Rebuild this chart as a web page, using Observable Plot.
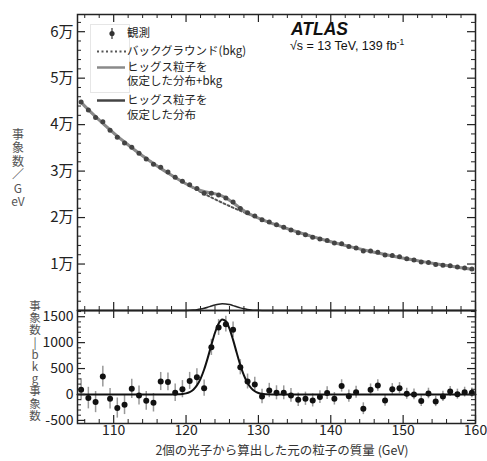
<!DOCTYPE html>
<html><head><meta charset="utf-8">
<script src="https://cdn.jsdelivr.net/npm/d3@7"></script>
<script src="https://cdn.jsdelivr.net/npm/@observablehq/plot@0.6"></script>
<style>
body{margin:0;background:#fff;}
#c{position:relative;width:487px;height:461px;font-family:'Noto Sans CJK JP',sans-serif;}
#c svg{position:absolute;left:0;}
.lbl{position:absolute;color:#555;text-align:center;white-space:pre;font-family:'Noto Sans CJK JP',sans-serif;}
</style></head><body><div id="c"></div>
<script>
// ---- data ----
const massBins = [105.5,106.5,107.5,108.5,109.5,110.5,111.5,112.5,113.5,114.5,115.5,116.5,117.5,118.5,119.5,120.5,121.5,122.5,123.5,124.5,125.5,126.5,127.5,128.5,129.5,130.5,131.5,132.5,133.5,134.5,135.5,136.5,137.5,138.5,139.5,140.5,141.5,142.5,143.5,144.5,145.5,146.5,147.5,148.5,149.5,150.5,151.5,152.5,153.5,154.5,155.5,156.5,157.5,158.5,159.5];
const bkgFit = [44792,43218,41708,40260,38871,37538,36258,35030,33851,32718,31631,30586,29583,28619,27692,26801,25944,25121,24328,23567,22834,22128,21450,20796,20167,19561,18977,18415,17874,17353,16850,16365,15898,15447,15013,14594,14190,13800,13424,13061,12710,12372,12045,11730,11425,11131,10847,10572,10306,10049,9801,9561,9329,9105,8888];
const residual = [90,-70,-147,345,-83,-262,-198,109,-19,-122,-160,250,243,32,102,262,333,122,909,1293,1357,1248,525,250,192,-38,77,32,32,-19,-102,-83,-115,-51,26,-83,165,-32,45,-275,90,173,-115,102,122,13,0,-128,19,-134,-38,58,6,45,32];
const errBar = [212,208,204,201,197,194,190,187,184,181,178,175,172,169,166,164,161,158,156,154,151,149,146,144,142,140,138,136,134,132,130,128,126,124,123,121,119,117,116,114,113,111,110,108,107,106,104,103,102,100,99,98,97,95,94];
const sigMass = [105,116,118,119,119.5,120,120.5,121,121.5,122,122.5,123,123.5,124,124.5,125,125.5,126,126.5,127,127.5,128,128.5,129,129.5,130,130.5,131,132,133,160];
const sigVal  = [0,0,1,3,9,21,46,93,175,302,481,706,955,1190,1367,1448,1413,1270,1053,805,567,367,220,121,62,29,12,5,1,0,0];
const xMajor = [110,120,130,140,150,160];
const xMinor = [106,108,112,114,116,118,122,124,126,128,132,134,136,138,142,144,146,148,152,154,156,158];
const yTopMajor = [10000,20000,30000,40000,50000,60000];
const yTopMinor = [2000,4000,6000,8000,12000,14000,16000,18000,22000,24000,26000,28000,32000,34000,36000,38000,42000,44000,46000,48000,52000,54000,56000,58000,62000];
const yBotMajor = [-500,0,500,1000,1500];
const yBotMinor = [-400,-300,-200,-100,100,200,300,400,600,700,800,900,1100,1200,1300,1400,1600];

(function(){
// ---- tables ----
const sigRows = sigMass.map((m,i)=>({m, s:sigVal[i]}));
const sigAt = new Map(sigRows.map(d=>[d.m,d.s]));
const rows = massBins.map((m,i)=>({m, b:bkgFit[i], r:residual[i], obs:bkgFit[i]+residual[i], sb:bkgFit[i]+(sigAt.get(m)||0), err:errBar[i]}));

const W=487, ML=77, MR=12, IW=W-ML-MR;
const FONT="'Noto Sans CJK JP', sans-serif";
const topH=310, topMT=14, topIH=topH-topMT;
const botH=151, botMB=38, botIH=botH-botMB;
const INK="#222";

function ticksX(ih, where){
  const big=8, small=4;
  const o = where==="top" ? k=>({insetBottom: ih-k}) : k=>({insetTop: ih-k});
  return [
    Plot.tickX(xMajor, {stroke:INK, strokeWidth:1.2, ...o(big)}),
    Plot.tickX(xMinor, {stroke:INK, strokeWidth:1, ...o(small)})
  ];
}
function ticksY(maj, min){
  const big=8, small=4;
  return [
    Plot.tickY(maj, {stroke:INK, strokeWidth:1.2, insetRight: IW-big}),
    Plot.tickY(min, {stroke:INK, strokeWidth:1, insetRight: IW-small}),
    Plot.tickY(maj, {stroke:INK, strokeWidth:1.2, insetLeft: IW-big}),
    Plot.tickY(min, {stroke:INK, strokeWidth:1, insetLeft: IW-small})
  ];
}

const topSvg = Plot.plot({
  width:W, height:topH, marginTop:topMT, marginBottom:0, marginLeft:ML, marginRight:MR,
  x:{domain:[105,160], axis:null},
  y:{domain:[0,63700]},
  style:{fontFamily:FONT, background:"transparent", overflow:"visible"},
  marks:[
    Plot.line(sigRows, {x:"m", y:"s", stroke:"#222", strokeWidth:1.5, curve:"monotone-x"}),
    Plot.line(rows, {x:"m", y:"b", stroke:"#555", strokeWidth:2, strokeDasharray:"2,2.5", curve:"monotone-x"}),
    Plot.line(rows, {x:"m", y:"sb", stroke:"#8a8a8a", strokeWidth:3, curve:"monotone-x"}),
    Plot.ruleX(rows, {x:"m", y1:d=>d.obs-d.err, y2:d=>d.obs+d.err, stroke:"#444"}),
    Plot.dot(rows, {x:"m", y:"obs", r:2.5, fill:"#444"}),
    ...ticksX(topIH, "top"),
    ...ticksX(topIH, "bottom"),
    ...ticksY(yTopMajor, yTopMinor),
    Plot.frame({stroke:INK, strokeWidth:1.5}),
    Plot.axisY({ticks:yTopMajor, tickSize:0, tickPadding:4, fontSize:15, fill:INK, tickFormat:d=>(d/10000)+"万", label:null})
  ]
});
topSvg.style.top="0px";

const botSvg = Plot.plot({
  width:W, height:botH, marginTop:0, marginBottom:botMB, marginLeft:ML, marginRight:MR,
  x:{domain:[105,160]},
  y:{domain:[-560,1620]},
  style:{fontFamily:FONT, background:"transparent", overflow:"visible"},
  marks:[
    Plot.ruleX(rows, {x:"m", y1:d=>d.r-d.err, y2:d=>d.r+d.err, stroke:"#999", strokeWidth:1.5}),
    Plot.line(sigRows, {x:"m", y:"s", stroke:"#111", strokeWidth:2, curve:"monotone-x"}),
    Plot.dot(rows, {x:"m", y:"r", r:3, fill:"#111"}),
    ...ticksX(botIH, "top"),
    ...ticksX(botIH, "bottom"),
    ...ticksY(yBotMajor, yBotMinor),
    Plot.frame({stroke:INK, strokeWidth:1.5}),
    Plot.axisY({ticks:yBotMajor, tickSize:0, tickPadding:4, fontSize:14, fill:INK, tickFormat:d=>String(d), label:null}),
    Plot.axisX({ticks:xMajor, tickSize:0, tickPadding:2, fontSize:14, fill:INK, tickFormat:d=>String(d), label:null})
  ]
});
botSvg.style.top=topH+"px";

const c = document.getElementById("c");
c.appendChild(topSvg);
c.appendChild(botSvg);

// legend + labels inside top panel
const s = d3.select(topSvg);
const lg = s.append("g").attr("font-family", FONT).attr("font-size", 11.5).attr("fill", INK).attr("text-anchor","start");
lg.append("rect").attr("x",90.5).attr("y",24.5).attr("width",39).attr("height",68).attr("fill","none").attr("stroke","#e6e6e6");
lg.append("line").attr("x1",112).attr("x2",112).attr("y1",28).attr("y2",39).attr("stroke","#333").attr("stroke-width",1.2);
lg.append("circle").attr("cx",112).attr("cy",33.5).attr("r",2.6).attr("fill","#333");
lg.append("line").attr("x1",97).attr("x2",127).attr("y1",51.5).attr("y2",51.5).attr("stroke","#555").attr("stroke-width",2).attr("stroke-dasharray","2,2.5");
lg.append("line").attr("x1",97).attr("x2",125).attr("y1",67.5).attr("y2",67.5).attr("stroke","#8a8a8a").attr("stroke-width",2.5);
lg.append("line").attr("x1",97).attr("x2",125).attr("y1",100.5).attr("y2",100.5).attr("stroke","#444").attr("stroke-width",2.5);
[["観測",33.5],["バックグラウンド(bkg)",51.5],["ヒッグス粒子を",67.5],["仮定した分布+bkg",82],["ヒッグス粒子を",100.5],["仮定した分布",116]].forEach(([t,y])=>{
  lg.append("text").attr("x",127).attr("y",y).attr("dominant-baseline","middle").text(t);
});
s.append("text").attr("x",291).attr("y",35).attr("text-anchor","start").attr("font-family","'Liberation Sans', Arial, sans-serif")
  .attr("font-weight","bold").attr("font-style","italic").attr("font-size",17.5).attr("fill","#111").text("ATLAS");
const t2 = s.append("text").attr("x",290).attr("y",50).attr("text-anchor","start").attr("font-family","'Liberation Sans', Arial, sans-serif")
  .attr("font-size",12.5).attr("fill","#111");
t2.append("tspan").text("√s = 13 TeV, 139 fb");
t2.append("tspan").attr("dy",-5).attr("font-size",8.5).text("-1");

// axis titles
function lbl(text, left, topPx, fs, lh){
  const d=document.createElement("div");
  d.className="lbl"; d.textContent=text;
  d.style.left=(left-15)+"px"; d.style.width="30px"; d.style.top=topPx+"px";
  d.style.fontSize=fs+"px"; d.style.lineHeight=lh+"px";
  c.appendChild(d);
}
lbl("事\n象\n数\n／\nG\neV", 18, 126.5, 12, 13.5);
lbl("事\n象\n数\n|\nb\nk\ng\n事\n象\n数", 35, 299, 11.5, 12.2);
const xt=document.createElement("div");
xt.className="lbl"; xt.textContent="2個の光子から算出した元の粒子の質量 (GeV)";
xt.style.left="0px"; xt.style.width="564px"; xt.style.top="441px"; xt.style.fontSize="12.5px"; xt.style.lineHeight="18px"; xt.style.color="#333";
c.appendChild(xt);
})();
</script></body></html>
